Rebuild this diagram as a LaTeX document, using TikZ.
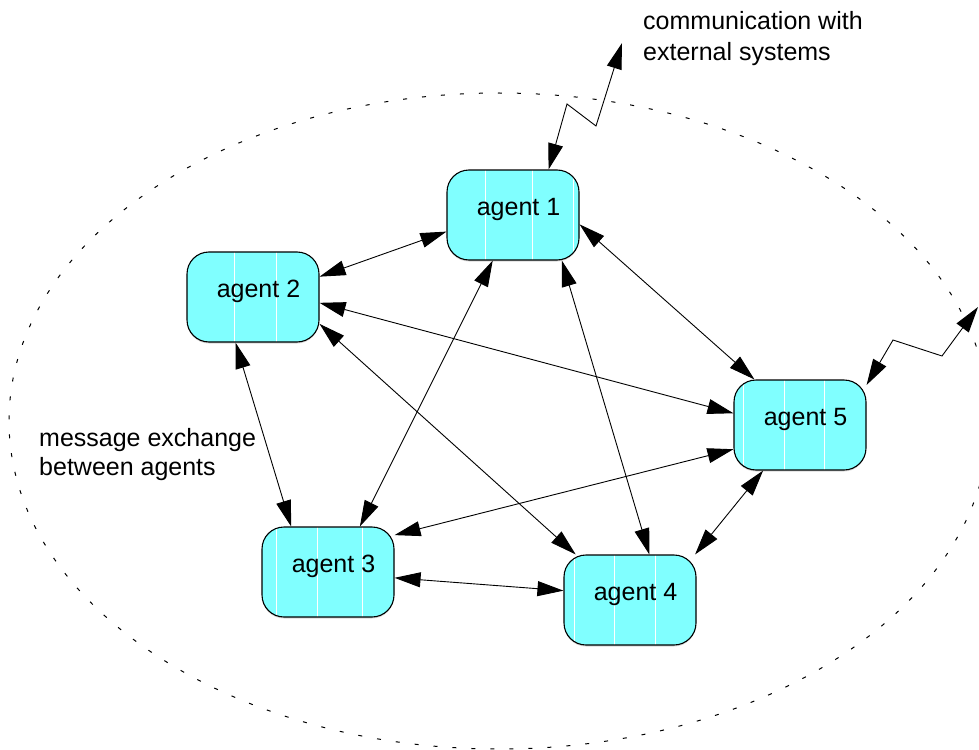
\documentclass[tikz,border=0pt]{standalone}
\usepackage{fontspec}
\setmainfont{Liberation Sans}
\usetikzlibrary{arrows.meta,shadows}
\definecolor{agentfill}{RGB}{128,255,255}
\tikzset{
  agent/.style={draw=black, line width=1.1pt, fill=agentfill, rounded corners=22pt,
    minimum width=132pt, minimum height=90pt, inner sep=0pt,
    font=\fontsize{25}{30}\selectfont, text height=19pt, text depth=19pt,
    drop shadow={shadow xshift=0pt, shadow yshift=-1.5pt, opacity=0.3}},
  stripes/.style={path picture={\foreach \s in {#1}
    \draw[white, line width=0.9pt]
      ([xshift=\s pt]path picture bounding box.south west) --
      ([xshift=\s pt]path picture bounding box.north west);}},
  msg/.style={line width=0.9pt,
    {Triangle[length=26pt,width=15pt]}-{Triangle[length=26pt,width=15pt]}},
  note/.style={font=\fontsize{25}{30}\selectfont, align=left, anchor=base west, inner sep=0pt},
  boundary/.style={line width=1pt, dash pattern=on 4pt off 15pt}
}
\begin{document}
\begin{tikzpicture}[x=1pt,y=-1pt]
\useasboundingbox (0,0) rectangle (979,749);

% system boundary
\draw[boundary] (499,421) ellipse [x radius=490pt, y radius=328pt];

% agents
\node[agent, stripes={38,85,126}] (a1) at (513,215) {\hspace*{11pt}agent 1};
\node[agent, stripes={47,89}]     (a2) at (253,297) {\hspace*{11pt}agent 2};
\node[agent, stripes={14,55,100}] (a3) at (328,572) {\hspace*{11pt}agent 3};
\node[agent, stripes={10,50,91}]  (a4) at (630,600) {\hspace*{11pt}agent 4};
\node[agent, stripes={9,50,90}]   (a5) at (800,425) {\hspace*{11pt}agent 5};

% message exchange between agents
\draw[msg] (a1.194) -- (a2.17);
\draw[msg] (a2.-5)  -- (a5.170);
\draw[msg] (a2.-22) -- (a4.140);
\draw[msg] (a2.249) -- (a3.129);
\draw[msg] (a1.246) -- (a3.55);
\draw[msg] (a1.-43) -- (a4.67);
\draw[msg] (a1.-8)  -- (a5.135);
\draw[msg] (a3.29)  -- (a5.200);
\draw[msg] (a3.-5)  -- (a4.172);
\draw[msg] (a4.35)  -- (a5.231);

% links to external systems
\coordinate (ext1) at (622,43);
\coordinate (ext5) at (978,307);
\draw[msg] (a1.52) -- (567,104) -- (596,126) -- (ext1);
\draw[msg] (a5.31) -- (893,340) -- (942,356) -- (ext5);

% annotations (anchored at the baseline of the last line)
\node[note, font=\fontsize{25}{31}\selectfont] (extlabel) at (643,61) {communication with\\external systems};
\node[note, font=\fontsize{25}{29}\selectfont] (msglabel) at (39,475) {message exchange\\between agents};
\end{tikzpicture}
\end{document}
